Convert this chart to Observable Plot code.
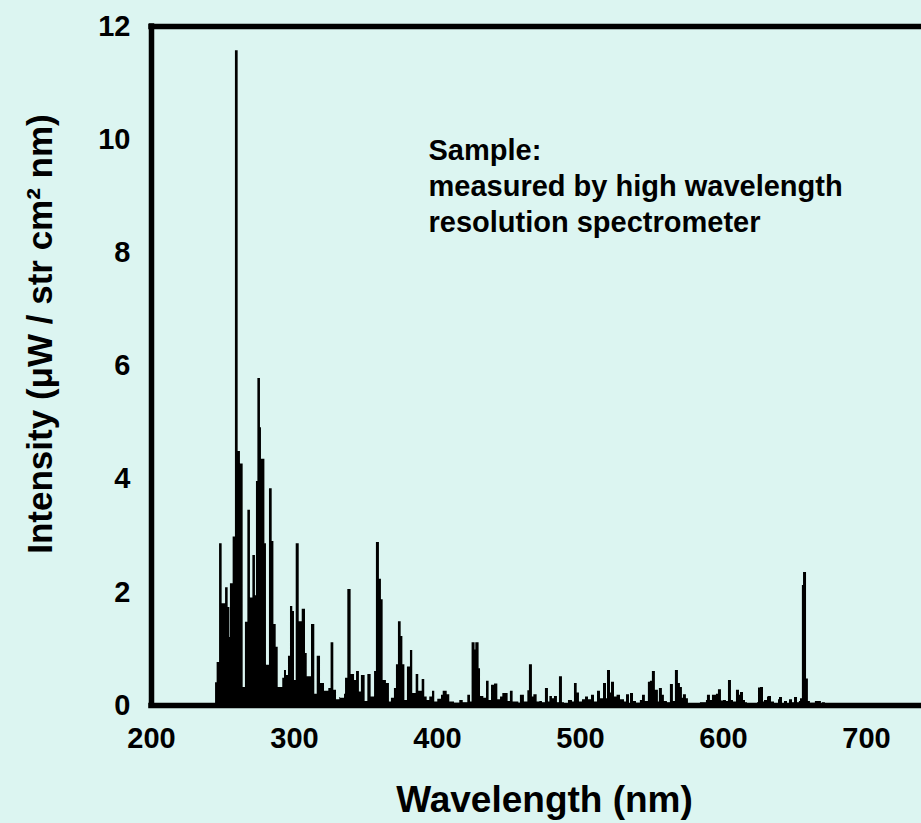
<!DOCTYPE html>
<html>
<head>
<meta charset="utf-8">
<script src="https://cdn.jsdelivr.net/npm/d3@7"></script>
<script src="https://cdn.jsdelivr.net/npm/@observablehq/plot@0.6"></script>
<style>
  html, body { margin: 0; padding: 0; background: #dcf5f1; overflow: hidden; }
  #chart svg { display: block; }
</style>
</head>
<body>
<div id="chart"></div>
<script>
// Emission spectrum: each wavelength (nm) starts a step that holds its intensity
// until the next wavelength.
const wavelengths = [
  244.8, 245.9, 247.6, 249.4, 251.8, 253.6, 254.8, 255.2, 257.1, 258.7,
  260.6, 262.2, 264.1, 265.7, 267.4, 269.2, 270.9, 272.7, 273.4, 274.4,
  276.2, 276.9, 279.3, 280.4, 282.5, 284.4, 285.6, 287.2, 288.6, 291.8,
  293.0, 294.4, 295.8, 297.2, 298.8, 300.0, 301.2, 303.3, 305.4, 307.7,
  308.9, 311.9, 314.2, 315.9, 318.2, 321.0, 324.0, 325.6, 327.5, 329.4,
  331.7, 332.2, 335.0, 335.7, 337.3, 339.6, 342.0, 343.4, 345.4, 346.8,
  349.4, 351.3, 353.6, 356.0, 357.3, 359.4, 360.8, 362.0, 364.3, 366.4,
  367.8, 369.9, 371.3, 372.7, 374.6, 375.8, 377.2, 379.0, 381.1, 382.7,
  385.1, 386.9, 389.3, 391.1, 392.8, 394.6, 396.5, 398.1, 400.2, 402.8,
  404.0, 406.8, 408.6, 411.9, 415.6, 418.0, 421.2, 423.1, 424.2, 426.3,
  426.8, 429.1, 430.1, 432.4, 434.3, 436.1, 437.8, 439.9, 442.2, 444.1,
  445.7, 449.4, 451.0, 452.9, 456.9, 458.0, 460.8, 463.2, 464.3, 466.4,
  467.4, 469.7, 471.6, 473.4, 475.5, 477.6, 478.6, 480.4, 481.8, 483.9,
  485.3, 487.4, 488.8, 491.6, 494.4, 495.8, 497.7, 499.3, 501.4, 503.5,
  505.6, 507.7, 509.8, 511.9, 514.0, 516.1, 518.2, 518.9, 521.0, 521.7,
  523.8, 525.6, 528.0, 530.8, 532.2, 534.3, 535.0, 537.1, 539.2, 541.9,
  543.4, 545.4, 547.5, 548.9, 550.3, 552.4, 554.5, 555.2, 557.3, 558.7,
  560.8, 562.9, 565.0, 566.4, 568.5, 569.9, 571.3, 572.0, 574.1, 575.5,
  583.9, 588.1, 588.8, 590.9, 592.3, 595.1, 596.5, 598.6, 600.0, 602.1,
  603.5, 605.6, 607.0, 609.1, 611.2, 611.9, 614.0, 615.4, 616.8, 623.8,
  624.5, 625.9, 628.0, 628.7, 630.8, 631.5, 633.6, 635.7, 638.5, 639.2,
  641.3, 642.7, 644.8, 646.2, 648.3, 649.7, 651.8, 653.1, 653.9, 655.2,
  656.0, 658.1, 659.4, 660.8, 664.3, 668.5, 669.2, 671.3
];
const intensities = [
  0.40, 0.76, 2.86, 1.80, 2.08, 1.73, 1.20, 2.15, 2.98, 11.57,
  4.49, 4.27, 0.32, 1.47, 3.45, 1.90, 2.65, 1.94, 3.96, 5.78,
  4.91, 4.35, 2.86, 0.71, 3.83, 2.90, 1.43, 1.03, 0.32, 0.48,
  0.62, 0.53, 0.87, 1.75, 1.66, 0.44, 2.86, 1.48, 1.70, 0.92,
  0.51, 1.43, 0.20, 0.87, 0.39, 0.25, 0.30, 1.11, 0.27, 0.10,
  0.14, 0.13, 0.20, 0.48, 2.05, 0.55, 0.44, 0.60, 0.24, 0.53,
  0.07, 0.55, 0.15, 0.60, 2.88, 2.23, 1.87, 0.44, 0.39, 0.06,
  0.13, 0.30, 0.72, 1.48, 1.22, 0.72, 0.09, 0.68, 0.97, 0.21,
  0.55, 0.25, 0.46, 0.15, 0.09, 0.15, 0.25, 0.06, 0.11, 0.18,
  0.25, 0.19, 0.06, 0.04, 0.09, 0.05, 0.18, 0.06, 1.11, 0.98,
  1.11, 0.65, 0.16, 0.13, 0.43, 0.09, 0.36, 0.38, 0.10, 0.15,
  0.21, 0.07, 0.25, 0.06, 0.04, 0.18, 0.06, 0.26, 0.72, 0.15,
  0.19, 0.06, 0.07, 0.05, 0.30, 0.06, 0.16, 0.12, 0.16, 0.05,
  0.51, 0.05, 0.03, 0.09, 0.06, 0.39, 0.22, 0.06, 0.10, 0.15,
  0.10, 0.18, 0.06, 0.25, 0.12, 0.39, 0.12, 0.62, 0.22, 0.41,
  0.15, 0.18, 0.10, 0.06, 0.19, 0.03, 0.21, 0.07, 0.04, 0.09,
  0.18, 0.07, 0.41, 0.43, 0.60, 0.27, 0.06, 0.30, 0.18, 0.07,
  0.05, 0.37, 0.07, 0.62, 0.39, 0.32, 0.13, 0.19, 0.12, 0.03,
  0.05, 0.09, 0.18, 0.09, 0.18, 0.20, 0.28, 0.08, 0.09, 0.07,
  0.44, 0.09, 0.06, 0.27, 0.18, 0.23, 0.09, 0.05, 0.03, 0.05,
  0.31, 0.32, 0.06, 0.09, 0.15, 0.16, 0.06, 0.03, 0.10, 0.14,
  0.03, 0.07, 0.03, 0.10, 0.05, 0.14, 0.05, 0.07, 0.12, 2.12,
  2.35, 0.47, 0.07, 0.04, 0.07, 0.03, 0.05, 0.00
];

const xTicks = [200, 300, 400, 500, 600, 700];
const yTicks = [0, 2, 4, 6, 8, 10, 12];
const xTitle = "Wavelength (nm)";
const yTitle = "Intensity (\u03bcW / str cm\u00b2 nm)";
const note = "Sample:\nmeasured by high wavelength\nresolution spectrometer";

const spectrum = wavelengths.map((w, i) => ({wavelength: w, intensity: intensities[i]}));

const ink = "#000000";
const chart = Plot.plot({
  width: 921,
  height: 823,
  marginLeft: 151,
  marginRight: 0,
  marginTop: 26,
  marginBottom: 118,
  style: {
    background: "#dcf5f1",
    fontFamily: "'Liberation Sans', Arial, Helvetica, sans-serif",
    fontWeight: "bold",
    fontSize: "29px",
    color: ink
  },
  x: {domain: [200, 738.5]},
  y: {domain: [0, 12]},
  marks: [
    Plot.areaY(spectrum, {x: "wavelength", y: "intensity", curve: "step-after", fill: ink}),
    // heavy frame: left, top and bottom edges
    Plot.ruleX([200], {stroke: ink, strokeWidth: 5.5, strokeLinecap: "square"}),
    Plot.ruleY([0, 12], {stroke: ink, strokeWidth: 5.5, strokeLinecap: "square"}),
    Plot.axisX({ticks: xTicks, tickSize: 0, tickPadding: 22, label: null, fill: ink}),
    Plot.axisY({ticks: yTicks, tickSize: 0, tickPadding: 21, label: null, fill: ink}),
    Plot.text([xTitle], {text: d => d, frameAnchor: "bottom", textAnchor: "middle", dx: 8, dy: 95, lineAnchor: "middle", fontSize: 37, fill: ink}),
    Plot.text([yTitle], {text: d => d, frameAnchor: "left", textAnchor: "middle", rotate: -90, dx: -111, dy: -32, lineAnchor: "middle", fontSize: 35, fill: ink}),
    Plot.text([note], {text: d => d, frameAnchor: "top-left", textAnchor: "start", lineAnchor: "top", dx: 277, dy: 108, fontSize: 29, lineHeight: 1.235, fill: ink})
  ]
});
document.getElementById("chart").append(chart);
</script>
</body>
</html>
